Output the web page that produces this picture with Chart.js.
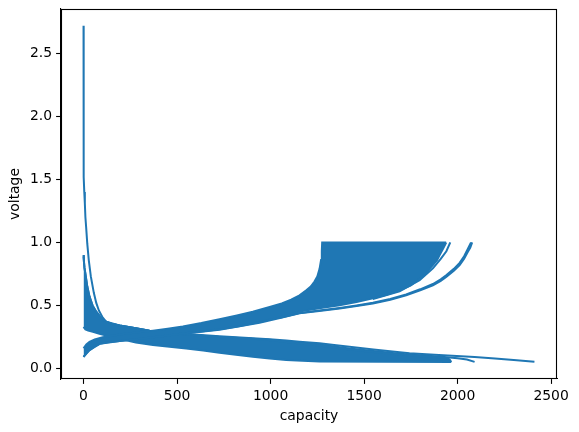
<!DOCTYPE html>
<html>
<head>
<meta charset="utf-8">
<script src="https://cdn.jsdelivr.net/npm/chart.js@4.4.1/dist/chart.umd.min.js"></script>
<style>
  html, body { margin: 0; padding: 0; background: #fff; }
  #wrap { width: 579px; height: 432px; }
</style>
</head>
<body>
<div id="wrap"><canvas id="capacityChart" width="579" height="432"></canvas></div>
<script>
// [capacity, voltage] pairs

// first discharge, starts at 2.72 V and runs out to ~2410
const firstDischarge = [
    [0, 2.72], [0, 2.3], [0, 2.05], [1, 1.75], [2, 1.52], [4, 1.4], [7, 1.31], [10, 1.2],
    [14, 1.12], [20, 0.99], [28, 0.86], [39, 0.73], [55, 0.6], [68, 0.52], [82, 0.46],
    [100, 0.41], [121, 0.37], [160, 0.35], [193, 0.34], [280, 0.318], [353, 0.3],
    [531, 0.275], [727, 0.255], [995, 0.232], [1084, 0.222], [1155, 0.212], [1262, 0.2],
    [1340, 0.186], [1422, 0.172], [1550, 0.15], [1690, 0.128], [1743, 0.121], [1900, 0.106],
    [2091, 0.09], [2200, 0.078], [2300, 0.066], [2411, 0.052]
];

const secondDischarge = [
    [0, 0.89], [5, 0.8], [11, 0.74], [20, 0.65], [32, 0.57], [48, 0.5], [68, 0.45],
    [95, 0.4], [121, 0.37], [193, 0.34], [353, 0.3], [531, 0.272], [727, 0.25],
    [995, 0.228], [1084, 0.213], [1262, 0.19], [1422, 0.158], [1550, 0.138],
    [1690, 0.116], [1800, 0.104], [1900, 0.094], [2000, 0.08], [2050, 0.07], [2091, 0.052]
];

// edges of the dense band of later discharge curves
const dischargeBandLow = [
    [0, 0.33], [10, 0.31], [25, 0.3], [50, 0.29], [85, 0.275], [121, 0.262], [160, 0.248],
    [193, 0.235], [280, 0.205], [371, 0.185], [460, 0.172], [549, 0.159], [640, 0.142],
    [727, 0.124], [815, 0.108], [905, 0.092], [995, 0.078], [1084, 0.066], [1170, 0.06],
    [1262, 0.055], [1600, 0.052], [1966, 0.05]
];

const dischargeBandHigh = [
    [0, 0.9], [2, 0.85], [5, 0.8], [11, 0.74], [20, 0.65], [32, 0.57], [48, 0.5], [68, 0.45],
    [95, 0.4], [121, 0.37], [160, 0.35], [193, 0.34], [280, 0.318], [353, 0.3], [440, 0.285],
    [531, 0.272], [630, 0.26], [727, 0.25], [860, 0.24], [995, 0.226], [1084, 0.21],
    [1170, 0.196], [1262, 0.182], [1340, 0.166], [1422, 0.15], [1550, 0.13], [1690, 0.11],
    [1800, 0.097], [1900, 0.088], [1950, 0.08], [1960, 0.065], [1966, 0.05]
];

// edges of the dense band of later charge curves
const chargeBandLow = [
    [0, 0.092], [15, 0.12], [32, 0.145], [60, 0.175], [86, 0.195], [130, 0.208], [193, 0.218],
    [280, 0.232], [371, 0.248], [450, 0.262], [531, 0.278], [630, 0.293], [727, 0.31],
    [830, 0.335], [941, 0.368], [1050, 0.405], [1155, 0.452], [1260, 0.478], [1369, 0.502],
    [1460, 0.528], [1547, 0.556], [1620, 0.585], [1690, 0.62], [1750, 0.66], [1797, 0.714],
    [1835, 0.765], [1868, 0.82], [1890, 0.86], [1904, 0.9], [1922, 0.95], [1939, 1.0]
];

const chargeBandHigh = [
    [0, 0.16], [15, 0.19], [32, 0.21], [60, 0.23], [103, 0.248], [193, 0.27], [280, 0.285],
    [371, 0.3], [450, 0.315], [531, 0.333], [630, 0.36], [727, 0.39], [820, 0.42], [905, 0.45],
    [1000, 0.49], [1060, 0.515], [1110, 0.545], [1155, 0.58], [1191, 0.62], [1215, 0.65],
    [1235, 0.69], [1250, 0.73], [1262, 0.79], [1270, 0.86], [1274, 0.93], [1276, 1.0], [1939, 1.0]
];

// the two long charge curves ending near 2078, and the thin one at ~1961
const firstCharge = [
    [0, 0.092], [32, 0.145], [86, 0.195], [193, 0.218], [371, 0.248], [531, 0.276],
    [727, 0.306], [941, 0.362], [1050, 0.4], [1155, 0.437], [1260, 0.455], [1369, 0.476],
    [1460, 0.495], [1547, 0.516], [1640, 0.545], [1725, 0.58], [1800, 0.62], [1868, 0.66],
    [1910, 0.695], [1939, 0.727], [1980, 0.775], [2011, 0.82], [2035, 0.87], [2055, 0.925],
    [2068, 0.96], [2078, 1.0]
];

const secondCharge = [
    [1050, 0.402], [1155, 0.44], [1260, 0.459], [1369, 0.48], [1460, 0.5], [1547, 0.521],
    [1640, 0.551], [1725, 0.587], [1800, 0.628], [1868, 0.67], [1910, 0.707], [1939, 0.74],
    [1980, 0.79], [2011, 0.838], [2035, 0.89], [2052, 0.94], [2072, 1.0]
];

const thirdCharge = [
    [1547, 0.55], [1690, 0.612], [1797, 0.7], [1868, 0.795], [1910, 0.87], [1940, 0.93], [1961, 1.0]
];

const xTicks = [0, 500, 1000, 1500, 2000, 2500];
const yTicks = [0, 0.5, 1.0, 1.5, 2.0, 2.5];
const xMin = -120.5, xMax = 2531.6;
const yMin = -0.084, yMax = 2.853;

const lineColor = '#1f77b4';
const tickFont = { family: 'DejaVu Sans', size: 13.9 };

function toPoints(pairs) {
    return pairs.map(p => ({ x: p[0], y: p[1] }));
}

function curve(pairs, extra) {
    return Object.assign({
        data: toPoints(pairs),
        borderColor: lineColor,
        backgroundColor: lineColor,
        borderWidth: 2,
        pointRadius: 0,
        tension: 0,
        fill: false
    }, extra || {});
}

// matplotlib style box round the plot area
const frame = {
    id: 'frame',
    afterDraw(chart) {
        const a = chart.chartArea;
        const ctx = chart.ctx;
        ctx.save();
        ctx.strokeStyle = '#000';
        ctx.lineWidth = 1.1;
        ctx.strokeRect(Math.round(a.left) + 0.5, Math.round(a.top) + 0.5,
            Math.round(a.right - a.left) - 1, Math.round(a.bottom - a.top) - 1);
        ctx.restore();
    }
};

const ctx = document.getElementById('capacityChart').getContext('2d');
new Chart(ctx, {
    type: 'line',
    data: {
        datasets: [
            curve(chargeBandLow),
            curve(chargeBandHigh, { fill: '-1' }),
            curve(dischargeBandLow),
            curve(dischargeBandHigh, { fill: '-1' }),
            curve(firstDischarge),
            curve(secondDischarge),
            curve(firstCharge),
            curve(secondCharge),
            curve(thirdCharge)
        ]
    },
    options: {
        responsive: false,
        animation: false,
        events: [],
        layout: { padding: { left: 0, right: 22, top: 9, bottom: 0 } },
        plugins: {
            legend: { display: false },
            tooltip: { enabled: false }
        },
        scales: {
            x: {
                type: 'linear',
                min: xMin,
                max: xMax,
                afterBuildTicks: axis => { axis.ticks = xTicks.map(v => ({ value: v })); },
                afterFit: axis => {
                    axis.height = 53;
                    axis.paddingLeft = 0;
                    axis.paddingRight = 0;
                },
                ticks: {
                    font: tickFont, color: '#000', padding: 4, maxRotation: 0, autoSkip: false,
                    callback: v => String(v)
                },
                grid: { drawOnChartArea: false, tickLength: 4.9, tickWidth: 1.1, color: '#000' },
                border: { display: true, color: '#000', width: 1.1 },
                title: { display: true, text: 'capacity', font: tickFont, color: '#000', padding: { top: 4, bottom: 7 } }
            },
            y: {
                type: 'linear',
                min: yMin,
                max: yMax,
                afterBuildTicks: axis => { axis.ticks = yTicks.map(v => ({ value: v })); },
                afterFit: axis => {
                    axis.width = 61;
                    axis.paddingTop = 0;
                    axis.paddingBottom = 0;
                },
                ticks: {
                    font: tickFont, color: '#000', padding: 4,
                    callback: v => Number(v).toFixed(1)
                },
                grid: { drawOnChartArea: false, tickLength: 4.9, tickWidth: 1.1, color: '#000' },
                border: { display: true, color: '#000', width: 1.1 },
                title: { display: true, text: 'voltage', font: tickFont, color: '#000', padding: { top: 7, bottom: 4 } }
            }
        }
    },
    plugins: [frame]
});
</script>
</body>
</html>
